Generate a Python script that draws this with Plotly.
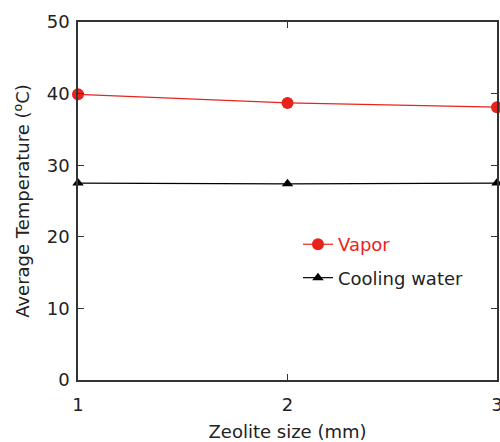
import plotly.graph_objects as go

# Average temperatures versus zeolite particle size
zeolite_size = [1, 2, 3]
vapor_temp = [39.9, 38.7, 38.1]
cooling_water_temp = [27.5, 27.4, 27.5]

red = "#e8231d"

fig = go.Figure()
fig.add_trace(go.Scatter(
    x=zeolite_size, y=vapor_temp, mode="lines+markers",
    name="<span style='color:#e8231d'>Vapor</span>",
    legendgroup="vapor",
    line=dict(color=red, width=1.2),
    marker=dict(symbol="circle", size=12, color=red),
    cliponaxis=False,
))
fig.add_trace(go.Scatter(
    x=zeolite_size, y=cooling_water_temp, mode="lines+markers",
    name="Cooling water",
    legendgroup="water",
    line=dict(color="black", width=1.2),
    marker=dict(symbol="triangle-up", size=10, color="black"),
    cliponaxis=False,
))

axis_common = dict(
    showline=True, linecolor="#333", linewidth=1.5, mirror="ticks",
    ticks="inside", ticklen=6, tickcolor="#333", showgrid=False,
    zeroline=False, tickfont=dict(size=18, color="#222"),
    ticklabeloverflow="allow", automargin=False,
)

fig.update_layout(
    width=500, height=442,
    margin=dict(l=78, r=3, t=22, b=62),
    paper_bgcolor="white", plot_bgcolor="white",
    font=dict(family="DejaVu Sans", color="#222"),
    showlegend=True,
    legend=dict(x=0.525, y=0.43, xanchor="left", yanchor="top",
                bgcolor="rgba(0,0,0,0)", font=dict(size=18),
                traceorder="grouped", tracegroupgap=7, itemwidth=30),
    xaxis=dict(range=[1, 3], tickvals=[1, 2, 3], ticklabelstandoff=8,
               title=dict(text="Zeolite size (mm)", font=dict(size=18), standoff=12),
               **axis_common),
    yaxis=dict(range=[0, 50], tickvals=[0, 10, 20, 30, 40, 50], ticklabelstandoff=3,
               title=dict(text="Average Temperature (<sup>o</sup>C)", font=dict(size=18), standoff=12),
               **axis_common),
)

fig.write_html("out.html")
